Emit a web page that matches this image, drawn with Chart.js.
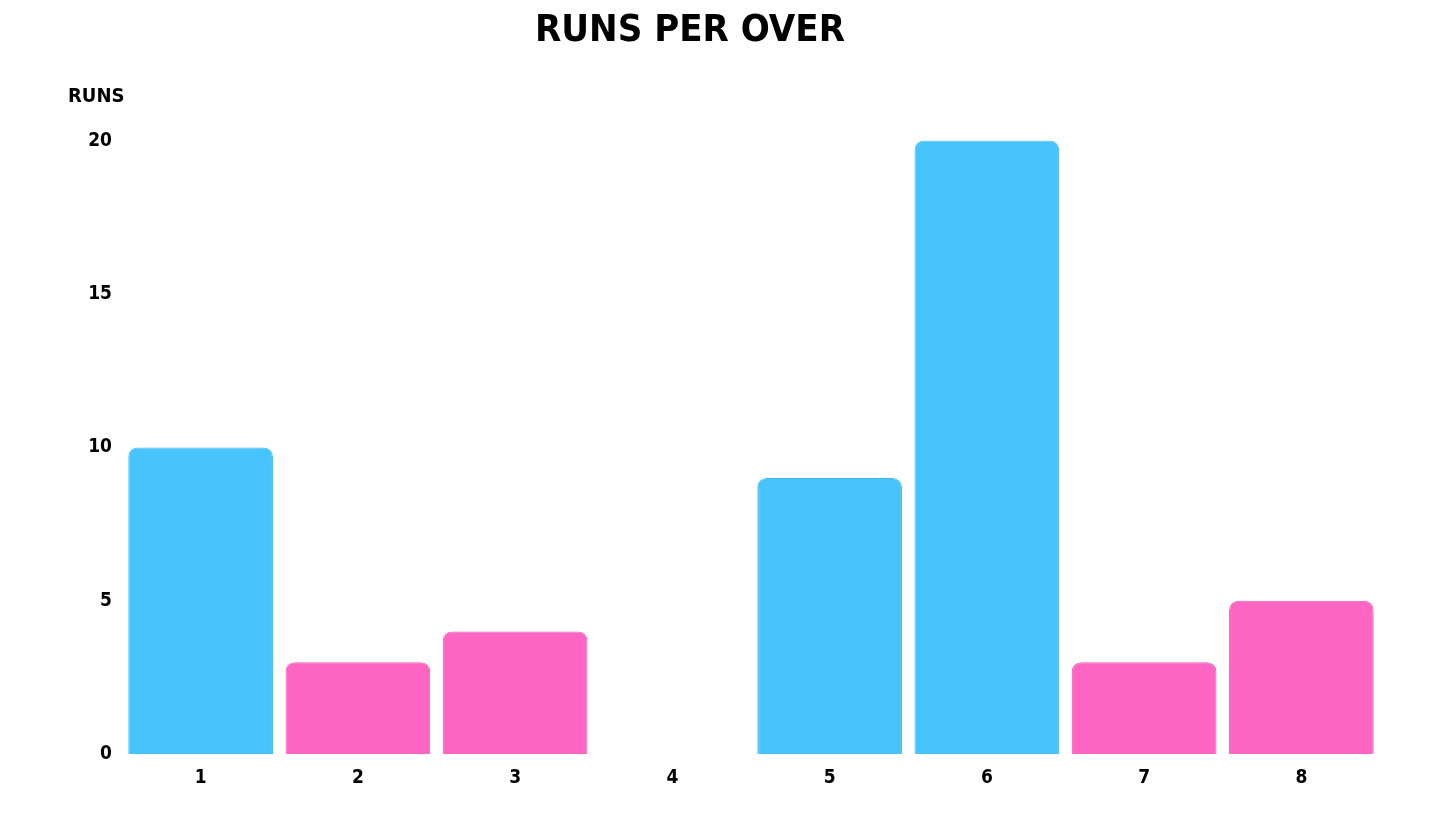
<!DOCTYPE html>
<html lang="en">
  <head>
    <meta charset="UTF-8" />
    <title>Runs per over</title>
    <script src="https://cdn.jsdelivr.net/npm/chart.js"></script>
    <style>
      html,
      body {
        margin: 0;
        padding: 0;
        background: #fff;
      }
      #chart-container {
        width: 1456px;
        height: 819px;
      }
    </style>
  </head>
  <body>
    <div id="chart-container">
      <canvas id="runsChart"></canvas>
    </div>

    <script>
      const overs = ["1", "2", "3", "4", "5", "6", "7", "8"];
      const runs = [10, 3, 4, 0, 9, 20, 3, 5];
      const yTicks = [0, 5, 10, 15, 20];

      const BLUE = "#48c4fd";
      const PINK = "#ff66c4";
      // which bars are blue (rest pink)
      const blueOvers = ["1", "5", "6"];

      const FONT = "'DejaVu Sans Condensed', 'DejaVu Sans', sans-serif";

      const barColors = overs.map((o) => (blueOvers.includes(o) ? BLUE : PINK));
      const borderColors = overs.map((o) =>
        blueOvers.includes(o) ? "#3fb8f2" : "#f25cb8"
      );

      // "RUNS" label above the y axis
      const yLabelPlugin = {
        id: "yLabel",
        afterDraw(chart) {
          const { ctx } = chart;
          ctx.save();
          ctx.font = `bold 20px ${FONT}`;
          ctx.fillStyle = "#000";
          ctx.textAlign = "left";
          ctx.textBaseline = "middle";
          ctx.fillText("RUNS", 68, 97);
          ctx.restore();
        },
      };

      new Chart(document.getElementById("runsChart"), {
        type: "bar",
        data: {
          labels: overs,
          datasets: [
            {
              label: "Runs",
              data: runs,
              backgroundColor: barColors,
              borderColor: borderColors,
              borderWidth: 1,
              borderRadius: { topLeft: 9, topRight: 9 },
              borderSkipped: "bottom",
              categoryPercentage: 1,
              barPercentage: 0.92,
            },
          ],
        },
        options: {
          responsive: true,
          maintainAspectRatio: false,
          animation: false,
          layout: { padding: { top: 0, right: 76, bottom: 18, left: 0 } },
          plugins: {
            legend: { display: false },
            tooltip: { enabled: false },
            title: {
              display: true,
              text: "RUNS PER OVER",
              color: "#000",
              font: { family: FONT, size: 38, weight: "bold" },
              padding: { top: 8, bottom: 87 },
            },
          },
          scales: {
            x: {
              grid: { display: false, drawTicks: false },
              border: { display: false },
              ticks: {
                color: "#000",
                font: { family: FONT, size: 19, weight: "bold" },
                padding: 12,
              },
            },
            y: {
              min: 0,
              max: 20,
              afterFit(scale) {
                scale.width = 122;
              },
              afterBuildTicks(scale) {
                scale.ticks = yTicks.map((v) => ({ value: v }));
              },
              grid: { display: false, drawTicks: false },
              border: { display: false },
              ticks: {
                color: "#000",
                font: { family: FONT, size: 19, weight: "bold" },
                padding: 10,
              },
            },
          },
        },
        plugins: [yLabelPlugin],
      });
    </script>
  </body>
</html>
